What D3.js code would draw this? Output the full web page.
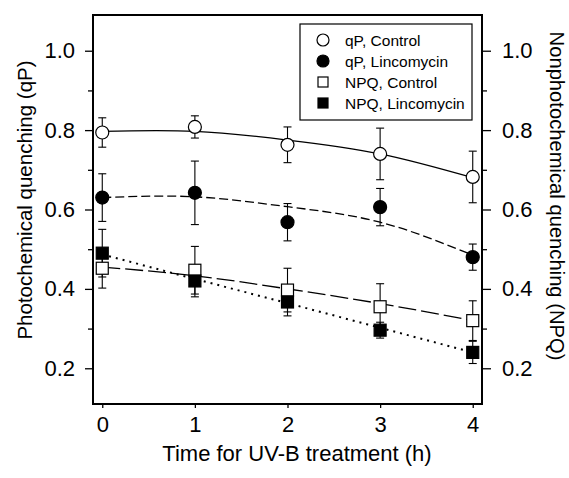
<!DOCTYPE html>
<html>
<head>
<meta charset="utf-8">
<script src="https://cdn.jsdelivr.net/npm/d3@7"></script>
<style>
	body { margin: 0; background: #fff; }
	text { font-family: "Liberation Sans", Arial, sans-serif; fill: #000; }
</style>
</head>
<body>
<script>
var times = [0, 1, 2, 3, 4];

// qP, measured values and error bars
var qpControl = [0.794, 0.808, 0.763, 0.740, 0.682],
	qpControlErr = [0.037, 0.028, 0.045, 0.065, 0.065],
	qpLinc = [0.630, 0.642, 0.568, 0.606, 0.480],
	qpLincErr = [0.060, 0.080, 0.047, 0.047, 0.033];

// NPQ, measured values and error bars
var npqControl = [0.452, 0.447, 0.397, 0.355, 0.320],
	npqControlErr = [0.050, 0.060, 0.055, 0.058, 0.050],
	npqLinc = [0.490, 0.420, 0.367, 0.296, 0.240],
	npqLincErr = [0.060, 0.040, 0.035, 0.020, 0.028];

// fitted curves read at each time point
var qpControlFit = [0.797, 0.797, 0.775, 0.740, 0.680],
	qpLincFit = [0.630, 0.632, 0.607, 0.568, 0.485],
	npqControlFit = [0.455, 0.433, 0.400, 0.363, 0.320],
	npqLincFit = [0.487, 0.425, 0.364, 0.302, 0.240];

var yTicks = [0.2, 0.4, 0.6, 0.8, 1.0],
	yMinor = [0.3, 0.5, 0.7, 0.9];

var svgWidth = 569, svgHeight = 478,
	plotL = 93, plotR = 482, plotT = 15, plotB = 404;

var svg = d3.select("body").append("svg")
	.attr("width", svgWidth)
	.attr("height", svgHeight);

var x = d3.scaleLinear().domain([-0.1, 4.1]).range([plotL, plotR]),
	y = d3.scaleLinear().domain([0.11, 1.09]).range([plotB, plotT]);

// axes
var fontSize = "22px";

var leftAxis = svg.append("g")
	.attr("transform", "translate(" + plotL + ",0)")
	.call(d3.axisLeft(y).tickValues(yTicks).tickSize(8).tickPadding(10).tickFormat(d3.format(".1f")));
leftAxis.append("g").call(d3.axisLeft(y).tickValues(yMinor).tickSize(5).tickFormat(""));

var rightAxis = svg.append("g")
	.attr("transform", "translate(" + plotR + ",0)")
	.call(d3.axisRight(y).tickValues(yTicks).tickSize(9).tickPadding(11).tickFormat(d3.format(".1f")));
rightAxis.append("g").call(d3.axisRight(y).tickValues(yMinor).tickSize(5).tickFormat(""));

var bottomAxis = svg.append("g")
	.attr("transform", "translate(0," + plotB + ")")
	.call(d3.axisBottom(x).tickValues(times).tickSize(4).tickPadding(8).tickFormat(d3.format("d")));

svg.selectAll(".domain").remove();
svg.selectAll(".tick line").attr("stroke", "#000").attr("stroke-width", 1.3);
svg.selectAll(".tick text").style("font-size", fontSize).attr("fill", "#000");

// frame
svg.append("rect")
	.attr("x", plotL).attr("y", plotT)
	.attr("width", plotR - plotL).attr("height", plotB - plotT)
	.attr("fill", "none").attr("stroke", "#000").attr("stroke-width", 2);

// axis titles
svg.append("text")
	.attr("x", 297).attr("y", 461)
	.attr("text-anchor", "middle").style("font-size", fontSize)
	.text("Time for UV-B treatment (h)");

svg.append("text")
	.attr("transform", "translate(32,200) rotate(-90)")
	.attr("text-anchor", "middle").style("font-size", "20.5px")
	.text("Photochemical quenching (qP)");

svg.append("text")
	.attr("transform", "translate(550,196) rotate(90)")
	.attr("text-anchor", "middle").style("font-size", "20.2px")
	.text("Nonphotochemical quenching (NPQ)");

// series
var series = [
	{ vals: qpControl, err: qpControlErr, fit: qpControlFit, shape: "circle", fill: "#fff", dash: null },
	{ vals: qpLinc, err: qpLincErr, fit: qpLincFit, shape: "circle", fill: "#000", dash: "9,4" },
	{ vals: npqControl, err: npqControlErr, fit: npqControlFit, shape: "square", fill: "#fff", dash: "18,5" },
	{ vals: npqLinc, err: npqLincErr, fit: npqLincFit, shape: "square", fill: "#000", dash: "2,5" }
];

var line = d3.line()
	.x(function(d, i) { return x(times[i]); })
	.y(function(d) { return y(d); })
	.curve(d3.curveNatural);

series.forEach(function(s) {
	svg.append("path")
		.attr("d", line(s.fit))
		.attr("fill", "none")
		.attr("stroke", "#000")
		.attr("stroke-width", s.dash === "2,5" ? 2 : 1.3)
		.attr("stroke-dasharray", s.dash);
});

series.forEach(function(s) {
	var g = svg.append("g").attr("stroke", "#000").attr("stroke-width", 1.1);
	s.vals.forEach(function(v, i) {
		var cx = x(times[i]),
			hi = y(v + s.err[i]),
			lo = y(v - s.err[i]);
		g.append("line").attr("x1", cx).attr("x2", cx).attr("y1", hi).attr("y2", lo);
		g.append("line").attr("x1", cx - 4).attr("x2", cx + 4).attr("y1", hi).attr("y2", hi);
		g.append("line").attr("x1", cx - 4).attr("x2", cx + 4).attr("y1", lo).attr("y2", lo);
	});
});

function drawMarker(g, shape, fill, cx, cy, size) {
	if (shape === "circle") {
		g.append("circle")
			.attr("cx", cx).attr("cy", cy).attr("r", size / 2)
			.attr("fill", fill).attr("stroke", "#000").attr("stroke-width", 1.2);
	} else {
		g.append("rect")
			.attr("x", cx - size / 2).attr("y", cy - size / 2)
			.attr("width", size).attr("height", size)
			.attr("fill", fill).attr("stroke", "#000").attr("stroke-width", 1.2);
	}
}

series.forEach(function(s) {
	var g = svg.append("g");
	s.vals.forEach(function(v, i) {
		drawMarker(g, s.shape, s.fill, x(times[i]), y(v), s.shape === "circle" ? 13 : 12);
	});
});

// legend
var legendLabels = ["qP, Control", "qP, Lincomycin", "NPQ, Control", "NPQ, Lincomycin"];

svg.append("rect")
	.attr("x", 300).attr("y", 24).attr("width", 172).attr("height", 96)
	.attr("fill", "#fff").attr("stroke", "#000").attr("stroke-width", 1.2);

legendLabels.forEach(function(label, i) {
	var ly = 40 + i * 21;
	drawMarker(svg, series[i].shape, series[i].fill, 323, ly, series[i].shape === "circle" ? 12 : 10);
	svg.append("text")
		.attr("x", 345).attr("y", ly + 5.5)
		.style("font-size", "15.5px")
		.text(label);
});
</script>
</body>
</html>
